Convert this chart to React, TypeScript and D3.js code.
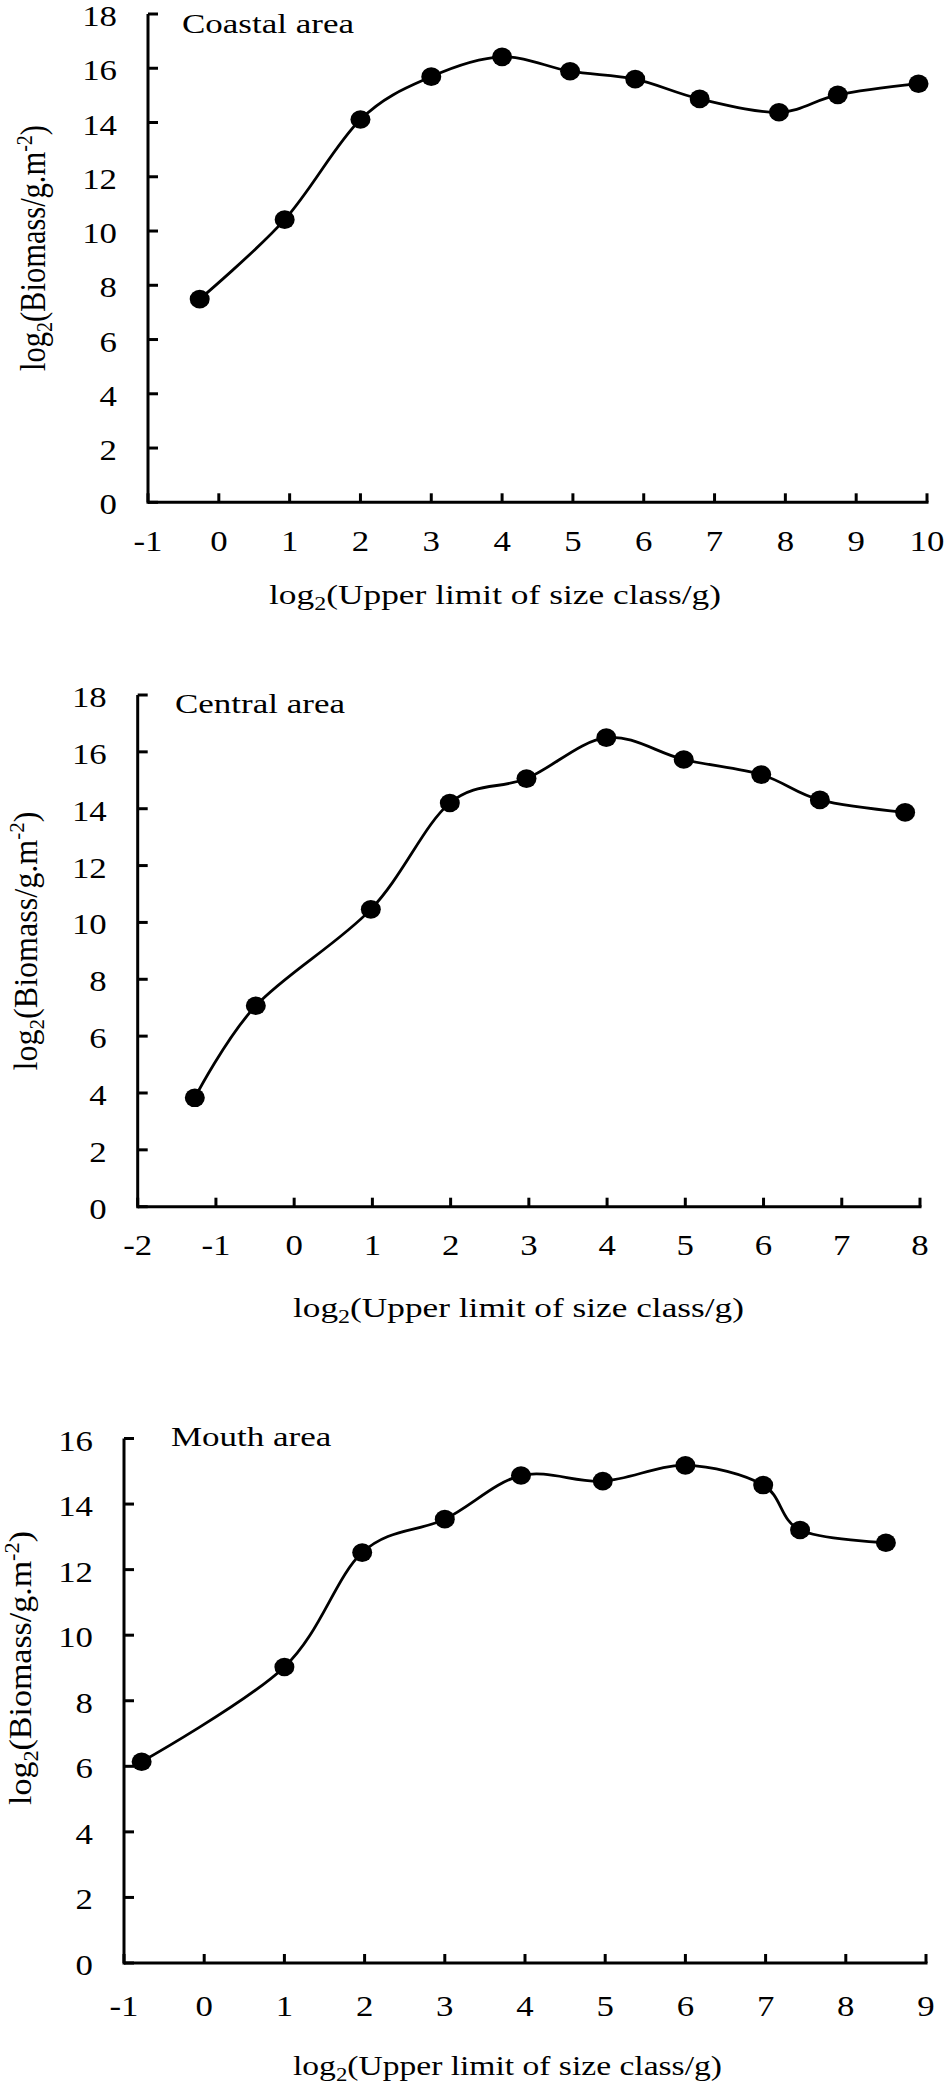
import React from 'react';
import * as d3 from 'd3';

// ---------- data ----------
const coastalX = [-0.27, 0.93, 2.0, 3.0, 4.0, 4.96, 5.88, 6.79, 7.91, 8.74, 9.88];
const coastalY = [7.49, 10.42, 14.11, 15.69, 16.42, 15.89, 15.6, 14.87, 14.38, 15.02, 15.43];

const centralX = [-1.27, -0.49, 0.98, 1.99, 2.97, 3.99, 4.98, 5.97, 6.72, 7.81];
const centralY = [3.83, 7.07, 10.46, 14.2, 15.06, 16.5, 15.73, 15.2, 14.31, 13.87];

const mouthX = [-0.78, 1.0, 1.97, 3.0, 3.95, 4.97, 6.0, 6.97, 7.43, 8.5];
const mouthY = [6.14, 9.03, 12.52, 13.54, 14.87, 14.7, 15.18, 14.58, 13.21, 12.82];

const coastalXTicks = [-1, 0, 1, 2, 3, 4, 5, 6, 7, 8, 9, 10];
const centralXTicks = [-2, -1, 0, 1, 2, 3, 4, 5, 6, 7, 8];
const mouthXTicks = [-1, 0, 1, 2, 3, 4, 5, 6, 7, 8, 9];
const yTicks18 = [0, 2, 4, 6, 8, 10, 12, 14, 16, 18];
const yTicks16 = [0, 2, 4, 6, 8, 10, 12, 14, 16];

const panelTitles = ['Coastal area', 'Central area', 'Mouth area'];

// ---------- layout ----------
const layouts = [
  { left: 148, right: 927, top: 14, bottom: 502.3, xLabDy: 48.5, titleX: 182, titleY: 33,
    xtX: 269, xtY: 604, xtW: 452, ytX: 45, ytCY: 248, ytLen: 246, ytS: 1.2 },
  { left: 137.7, right: 920, top: 695, bottom: 1206.7, xLabDy: 48.5, titleX: 175, titleY: 713,
    xtX: 293, xtY: 1317, xtW: 451, ytX: 37, ytCY: 941, ytLen: 259, ytS: 1.15 },
  { left: 124, right: 926, top: 1438.5, bottom: 1963, xLabDy: 53, titleX: 171, titleY: 1446,
    xtX: 293, xtY: 2075, xtW: 429, ytX: 31, ytCY: 1668, ytLen: 274, ytS: 1.1 },
];

const panels = [
  { title: panelTitles[0], xs: coastalX, ys: coastalY, xTicks: coastalXTicks, yTicks: yTicks18 },
  { title: panelTitles[1], xs: centralX, ys: centralY, xTicks: centralXTicks, yTicks: yTicks18 },
  { title: panelTitles[2], xs: mouthX, ys: mouthY, xTicks: mouthXTicks, yTicks: yTicks16 },
];

const FONT = '"Liberation Serif", "Times New Roman", Times, serif';

function Panel({ p, L }: { p: any; L: any }) {
  const xd = d3.extent(p.xTicks as number[]) as [number, number];
  const yd = d3.extent(p.yTicks as number[]) as [number, number];
  const x = d3.scaleLinear().domain(xd).range([L.left, L.right]);
  const y = d3.scaleLinear().domain(yd).range([L.bottom, L.top]);
  const pts: [number, number][] = p.xs.map((v: number, i: number) => [x(v), y(p.ys[i])]);
  const path = d3.line().curve(d3.curveCardinal.tension(0))(pts) || '';
  const sw = 3;
  return (
    <g fontFamily={FONT} fill="#000">
      {/* axes */}
      <line x1={L.left} x2={L.left} y1={L.top} y2={L.bottom + sw / 2} stroke="#000" strokeWidth={sw} />
      <line x1={L.left} x2={L.right + sw / 2} y1={L.bottom} y2={L.bottom} stroke="#000" strokeWidth={sw} />
      {p.yTicks.map((t: number) => (
        <g key={'yt' + t}>
          <line x1={L.left} x2={L.left + 10} y1={y(t)} y2={y(t)} stroke="#000" strokeWidth={sw} />
          <text transform={`translate(${L.left - 31},${y(t) + 12}) scale(1.2,1)`} textAnchor="end" fontSize={29}>
            {String(t)}
          </text>
        </g>
      ))}
      {p.xTicks.map((t: number) => (
        <g key={'xt' + t}>
          <line x1={x(t)} x2={x(t)} y1={L.bottom} y2={L.bottom - 9} stroke="#000" strokeWidth={sw} />
          <text transform={`translate(${x(t)},${L.bottom + L.xLabDy}) scale(1.2,1)`} textAnchor="middle" fontSize={29}>
            {String(t)}
          </text>
        </g>
      ))}
      {/* curve */}
      <path d={path} fill="none" stroke="#000" strokeWidth={2.8} />
      {pts.map((q, i) => (
        <ellipse key={'m' + i} cx={q[0]} cy={q[1]} rx={10} ry={9.3} fill="#000" />
      ))}
      {/* panel title */}
      <text transform={`translate(${L.titleX},${L.titleY}) scale(1.25,1)`} fontSize={28}>
        {p.title}
      </text>
      {/* x axis title */}
      <text x={L.xtX} y={L.xtY} fontSize={28} textLength={L.xtW} lengthAdjust="spacingAndGlyphs">
        log<tspan fontSize={19} dy={6}>2</tspan>
        <tspan dy={-6}>(Upper limit of size class/g)</tspan>
      </text>
      {/* y axis title */}
      <text
        transform={`translate(${L.ytX},${L.ytCY}) rotate(-90) scale(1,${L.ytS})`}
        textAnchor="middle"
        fontSize={29}
        textLength={L.ytLen}
        lengthAdjust="spacingAndGlyphs"
      >
        log<tspan fontSize={19} dy={6}>2</tspan>
        <tspan dy={-6}>(Biomass/g.m</tspan>
        <tspan fontSize={19} dy={-11}>-2</tspan>
        <tspan dy={11}>)</tspan>
      </text>
    </g>
  );
}

export default function App() {
  return (
    <svg
      width={946}
      height={2089}
      viewBox="0 0 946 2089"
      style={{ position: 'absolute', left: 0, top: 0, background: '#fff' }}
    >
      <rect x={0} y={0} width={946} height={2089} fill="#fff" />
      {panels.map((p, i) => (
        <Panel key={i} p={p} L={layouts[i]} />
      ))}
    </svg>
  );
}
